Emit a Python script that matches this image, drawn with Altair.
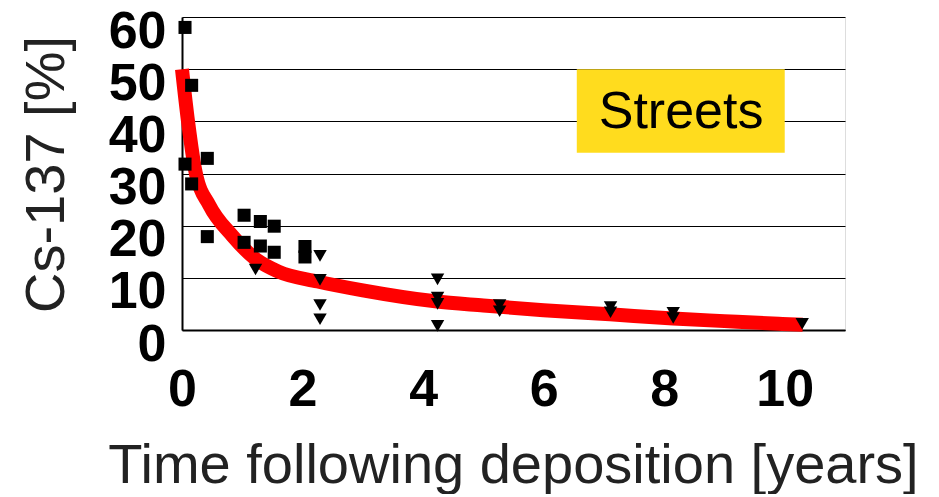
import altair as alt
import pandas as pd

# Measured points (squares)
sq_x = [0.05, 0.16, 0.05, 0.42, 0.16, 0.42, 1.03, 1.03, 1.30, 1.30, 1.53, 1.53, 2.04, 2.04]
sq_y = [58.0, 46.9, 31.8, 32.9, 28.0, 17.9, 22.0, 16.8, 20.8, 16.1, 19.9, 14.9, 16.0, 14.0]

# Measured points (triangles)
tri_x = [1.22, 2.29, 2.29, 2.29, 2.29, 4.24, 4.24, 4.24, 4.24, 5.27, 5.27, 7.11, 7.11, 8.15, 8.15, 10.29]
tri_y = [11.6, 14.2, 9.6, 4.8, 2.05, 9.7, 6.2, 5.0, 0.8, 4.8, 3.6, 4.4, 3.4, 3.3, 2.3, 1.2]

# Fitted curve
fit_x = [0.0, 0.1, 0.23, 0.45, 0.84, 1.2, 1.6, 2.25, 3.0, 4.2, 5.0, 6.0, 7.1, 8.15, 9.0, 9.9, 10.3]
fit_y = [50.0, 40.0, 30.0, 24.0, 18.0, 13.8, 11.2, 9.3, 7.6, 5.5, 4.7, 3.8, 3.0, 2.2, 1.7, 1.2, 1.0]

x_ticks = [0, 2, 4, 6, 8, 10]
y_ticks = [0, 10, 20, 30, 40, 50, 60]

label_text = ["Streets"]
label_x0, label_x1 = [6.55], [10.0]
label_y0, label_y1 = [34.0], [50.0]
label_cx, label_cy = [8.28], [41.8]

sq = pd.DataFrame({"t": sq_x, "v": sq_y})
tri = pd.DataFrame({"t": tri_x, "v": tri_y})
fit = pd.DataFrame({"t": fit_x, "v": fit_y})
box = pd.DataFrame({"t": label_x0, "t2": label_x1, "v": label_y0, "v2": label_y1})
txt = pd.DataFrame({"t": label_cx, "v": label_cy, "s": label_text})

FONT = "Liberation Sans"

x_scale = alt.Scale(domain=[0, 11], nice=False, zero=False)
y_scale = alt.Scale(domain=[0, 60], nice=False)

x_axis = alt.Axis(
    values=x_ticks, grid=False, ticks=False, domainColor="#000", domainWidth=2,
    labelFont=FONT, labelFontSize=52, labelFontWeight="bold", labelColor="#000",
    labelBaseline="middle", labelPadding=59, labelFlush=False,
    title="Time following deposition [years]", titleFont=FONT, titleFontSize=56,
    titleFontWeight="normal", titleColor="#222", titleBaseline="alphabetic",
    titleAnchor="middle", titleX=331, titleY=152,
)
y_axis = alt.Axis(
    values=y_ticks, grid=True, gridColor="#000", gridWidth=1, ticks=False,
    domainColor="#000", domainWidth=2,
    labelFont=FONT, labelFontSize=52, labelFontWeight="bold", labelColor="#000",
    labelBaseline="middle", labelAlign="right", labelPadding=16, labelOffset=14,
    labelFlush=False, labelOverlap=False,
    title="Cs-137 [%]", titleFont=FONT, titleFontSize=56, titleFontWeight="normal",
    titleColor="#222", titleAngle=270, titleBaseline="middle", titleAlign="center",
    titleX=-136, titleY=157,
)

X = alt.X("t:Q", scale=x_scale, axis=x_axis)
Y = alt.Y("v:Q", scale=y_scale, axis=y_axis)

box_layer = alt.Chart(box).mark_rect(color="#FFDC1E").encode(
    x=X, x2="t2:Q", y=Y, y2="v2:Q"
)
txt_layer = alt.Chart(txt).mark_text(
    font=FONT, fontSize=52, color="#000", align="center", baseline="middle"
).encode(x=X, y=Y, text="s:N")
fit_layer = alt.Chart(fit).mark_line(
    color="#FF0000", strokeWidth=14, interpolate="monotone", strokeCap="butt"
).encode(x=X, y=Y)
sq_layer = alt.Chart(sq).mark_point(
    shape="square", filled=True, color="#000", size=170, opacity=1
).encode(x=X, y=Y)
tri_layer = alt.Chart(tri).mark_point(
    shape="triangle-down", filled=True, color="#000", size=180, opacity=1
).encode(x=X, y=Y)

chart = alt.layer(box_layer, txt_layer, fit_layer, sq_layer, tri_layer).properties(
    width=663, height=313,
    autosize=alt.AutoSizeParams(type="none"),
    padding={"left": 174, "top": 9, "right": 80, "bottom": 164},
).configure_view(stroke="#000", strokeWidth=1).configure(background="white")

chart.save("out.html", embed_options={"renderer": "svg", "actions": False})
